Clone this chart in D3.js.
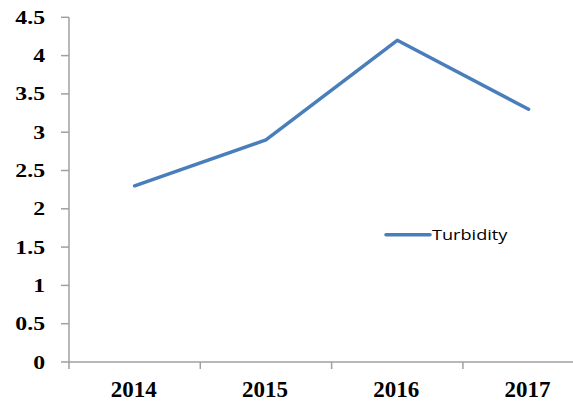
<!DOCTYPE html>
<html>
<head>
<meta charset="utf-8">
<script src="https://cdn.jsdelivr.net/npm/d3@7"></script>
<style>
  html, body { margin: 0; padding: 0; background: #fff; overflow: hidden; }
  .ylab { font-family: "Liberation Serif", serif; font-weight: bold; font-size: 19px; fill: #000; }
  .xlab { font-family: "Liberation Serif", serif; font-weight: bold; font-size: 23px; fill: #000; }
  .legend { font-family: "Open Sans", sans-serif; font-size: 14.5px; fill: #000; }
</style>
</head>
<body>
<div id="chart"></div>
<script>
// data
const years = ['2014', '2015', '2016', '2017'];
const turbidity = [2.3, 2.9, 4.2, 3.3];
const yTicks = [0, 0.5, 1, 1.5, 2, 2.5, 3, 3.5, 4, 4.5];
const seriesName = 'Turbidity';

const W = 573, H = 406;
const plotLeft = 69, plotTop = 17.3, plotBottom = 362;
const band = 131.3;
const axisColor = '#a0a0a0';
const lineColor = '#4a7ebb';

const svg = d3.select('#chart').append('svg')
  .attr('width', W).attr('height', H);

const x = d3.scaleBand().domain(years).range([plotLeft, plotLeft + band * years.length]);
const y = d3.scaleLinear().domain([0, 4.5]).range([plotBottom, plotTop]);

// y axis
svg.append('line')
  .attr('x1', plotLeft).attr('x2', plotLeft)
  .attr('y1', y(4.5)).attr('y2', plotBottom)
  .attr('stroke', axisColor).attr('stroke-width', 1.5);

yTicks.forEach(t => {
  svg.append('line')
    .attr('x1', plotLeft - 8).attr('x2', plotLeft)
    .attr('y1', y(t)).attr('y2', y(t))
    .attr('stroke', axisColor).attr('stroke-width', 1.5);
  svg.append('text')
    .attr('class', 'ylab')
    .attr('text-anchor', 'end')
    .attr('transform', `translate(45,${y(t) + 6.5}) scale(1.25,1)`)
    .text(t);
});

// x axis
svg.append('line')
  .attr('x1', plotLeft).attr('x2', plotLeft + band * years.length)
  .attr('y1', plotBottom).attr('y2', plotBottom)
  .attr('stroke', axisColor).attr('stroke-width', 1.5);

const bounds = years.map(d => x(d)).concat([x.range()[1]]);
bounds.forEach(b => {
  svg.append('line')
    .attr('x1', b).attr('x2', b)
    .attr('y1', plotBottom).attr('y2', plotBottom + 7)
    .attr('stroke', axisColor).attr('stroke-width', 1.5);
});

svg.selectAll('.xlab')
  .data(years)
  .enter().append('text')
  .attr('class', 'xlab')
  .attr('text-anchor', 'middle')
  .attr('x', d => x(d) + x.bandwidth() / 2 - 1)
  .attr('y', 396.5)
  .text(d => d);

// series line
const line = d3.line()
  .x((d, i) => x(years[i]) + x.bandwidth() / 2)
  .y(d => y(d));

svg.append('path')
  .datum(turbidity)
  .attr('d', line)
  .attr('fill', 'none')
  .attr('stroke', lineColor)
  .attr('stroke-width', 3.5)
  .attr('stroke-linejoin', 'round')
  .attr('stroke-linecap', 'round');

// legend
svg.append('line')
  .attr('x1', 386).attr('x2', 430)
  .attr('y1', 234.7).attr('y2', 234.7)
  .attr('stroke', lineColor).attr('stroke-width', 3.5)
  .attr('stroke-linecap', 'round');
svg.append('text')
  .attr('class', 'legend')
  .attr('transform', 'translate(432,240) scale(1.25,1)')
  .text(seriesName);
</script>
</body>
</html>
